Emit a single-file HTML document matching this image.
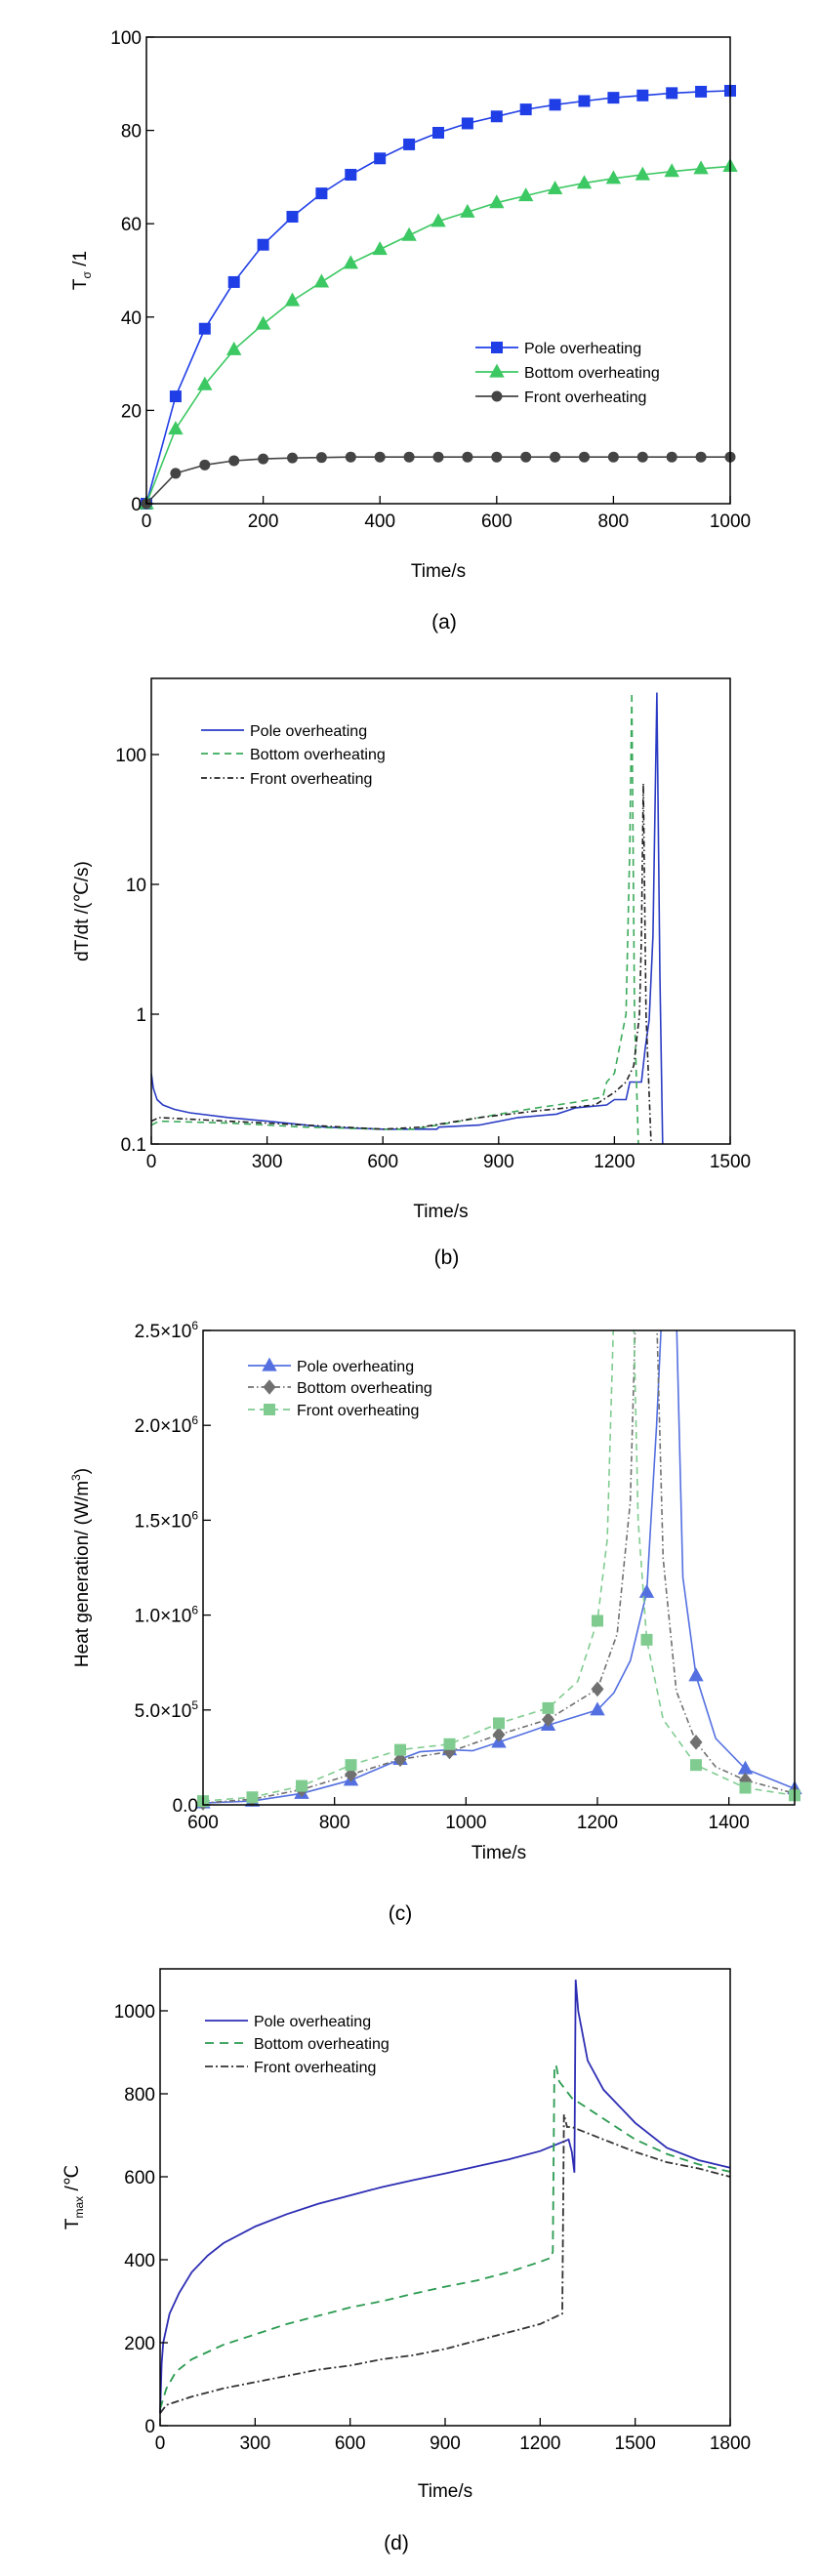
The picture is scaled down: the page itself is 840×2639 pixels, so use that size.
<!DOCTYPE html>
<html><head><meta charset="utf-8"><style>
html,body{margin:0;padding:0;background:#fff}
svg{display:block}
text{font-family:"Liberation Sans",sans-serif;fill:#000}
</style></head><body>
<svg id="fig" width="840" height="2639" viewBox="0 0 840 2639" xmlns="http://www.w3.org/2000/svg"></svg>
<script>
// ---- Panel (a) data ----
const aTime=[0,50,100,150,200,250,300,350,400,450,500,550,600,650,700,750,800,850,900,950,1000];
const aPole=[0,23,37.5,47.5,55.5,61.5,66.5,70.5,74,77,79.5,81.5,83,84.5,85.5,86.3,87,87.5,88,88.3,88.5];
const aBottom=[0,16,25.5,33,38.5,43.5,47.5,51.5,54.5,57.5,60.5,62.5,64.5,66,67.5,68.7,69.7,70.5,71.2,71.8,72.3];
const aFront=[0,6.5,8.3,9.2,9.6,9.8,9.9,10,10,10,10,10,10,10,10,10,10,10,10,10,10];
const aXTicks=[0,200,400,600,800,1000];
const aYTicks=[0,20,40,60,80,100];
// ---- Panel (b) data ----
const bPoleT=[0,5,15,30,60,100,200,300,400,450,600,740,745,850,950,1050,1100,1180,1200,1230,1240,1270,1280,1290,1300,1310,1318,1325];
const bPoleV=[0.35,0.27,0.22,0.2,0.185,0.174,0.16,0.15,0.14,0.135,0.13,0.13,0.135,0.14,0.16,0.17,0.19,0.2,0.22,0.22,0.3,0.3,0.55,0.9,4,300,2,0.1];
const bBotT=[0,20,200,400,600,680,800,900,1000,1100,1170,1180,1200,1210,1230,1240,1245,1252,1262];
const bBotV=[0.14,0.15,0.145,0.135,0.13,0.13,0.15,0.17,0.19,0.21,0.23,0.3,0.35,0.5,1,20,300,1,0.1];
const bFrontT=[0,20,200,400,600,700,850,1000,1150,1200,1230,1250,1265,1270,1275,1282,1295];
const bFrontV=[0.15,0.16,0.15,0.14,0.13,0.135,0.16,0.18,0.2,0.25,0.3,0.4,1,4,60,1,0.1];
const bXTicks=[0,300,600,900,1200,1500];
const bYTicks=[0.1,1,10,100];
// ---- Panel (c) data ----
const cMarkT=[600,675,750,825,900,975,1050,1125,1200,1275,1350,1425,1500];
const cPoleM=[0.1,0.2,0.6,1.3,2.4,2.9,3.3,4.2,5.0,11.2,6.8,1.9,0.85];
const cBotM=[0.1,0.3,0.8,1.6,2.4,2.8,3.7,4.5,6.1,null,3.3,1.3,0.6];
const cFrontM=[0.2,0.4,1.0,2.1,2.9,3.2,4.3,5.1,9.7,8.7,2.1,0.9,0.5];
const cPoleLT=[600,675,750,825,900,930,975,1010,1050,1100,1125,1200,1225,1250,1275,1290,1298,1320,1330,1350,1380,1425,1500];
const cPoleLV=[0.1,0.2,0.6,1.3,2.4,2.8,2.9,2.85,3.3,3.9,4.2,5.0,5.9,7.6,11.2,20,26,26,12,6.8,3.5,1.9,0.85];
const cBotLT=[600,675,750,825,900,975,1050,1125,1200,1230,1250,1258,1290,1300,1320,1350,1380,1425,1500];
const cBotLV=[0.1,0.3,0.8,1.6,2.4,2.8,3.7,4.5,6.1,9,16,26,26,13,6,3.3,2.0,1.3,0.6];
const cFrontLT=[600,675,750,825,900,975,1050,1125,1170,1200,1215,1225,1255,1262,1275,1300,1350,1425,1500];
const cFrontLV=[0.2,0.4,1.0,2.1,2.9,3.2,4.3,5.1,6.5,9.7,14,26,26,15,8.7,4.5,2.1,0.9,0.5];
const cXTicks=[600,800,1000,1200,1400];
const cYTicks=[0,5,10,15,20,25];
const cYLabels=["0.0","5.0×10","1.0×10","1.5×10","2.0×10","2.5×10"];
const cYExp=["","5","6","6","6","6"];
// ---- Panel (d) data ----
const dPoleT=[0,5,10,30,60,100,150,200,300,400,500,600,700,800,900,1000,1100,1200,1290,1300,1308,1312,1320,1350,1400,1500,1600,1700,1800];
const dPoleV=[30,150,200,270,320,370,410,440,480,510,535,555,575,592,608,625,642,662,690,660,610,1075,1000,880,810,730,670,640,622];
const dBotT=[0,20,50,100,200,300,400,500,600,700,800,900,1000,1100,1200,1235,1240,1245,1250,1260,1300,1400,1500,1600,1700,1800];
const dBotV=[40,90,130,160,195,220,245,265,285,300,318,335,350,370,395,405,420,860,870,830,790,740,690,655,630,612];
const dFrontT=[0,20,100,200,300,400,500,600,700,800,900,1000,1100,1200,1270,1275,1285,1300,1400,1500,1600,1700,1800];
const dFrontV=[30,50,70,90,105,120,135,145,160,170,185,205,225,245,270,750,720,720,690,660,635,620,600];
const dXTicks=[0,300,600,900,1200,1500,1800];
const dYTicks=[0,200,400,600,800,1000];

const NS="http://www.w3.org/2000/svg";
const svg=document.getElementById('fig');
function mk(tag,attrs,parent){const e=document.createElementNS(NS,tag);for(const k in attrs)e.setAttribute(k,attrs[k]);(parent||svg).appendChild(e);return e;}
function lin(d0,d1,r0,r1){return v=>r0+(v-d0)*(r1-r0)/(d1-d0);}
function logs(d0,d1,r0,r1){return v=>r0+(Math.log10(v)-Math.log10(d0))*(r1-r0)/(Math.log10(d1)-Math.log10(d0));}
function path(ts,vs,X,Y){let s="";ts.forEach((t,i)=>{if(vs[i]==null)return;s+=(s?"L":"M")+X(t).toFixed(1)+","+Y(vs[i]).toFixed(1);});return s;}

function frame(g,L,T,R,B){
  const f=mk('rect',{x:L,y:T,width:R-L,height:B-T,fill:'none',stroke:'#000','stroke-width':1.5},g);
  
  
}
function xticks(g,ticks,X,B,labels){
  ticks.forEach((t,i)=>{
    const l=mk('line',{x1:X(t),x2:X(t),y1:B,y2:B-8,stroke:'#000','stroke-width':1.3},g);
    
    
    const tx=mk('text',{x:X(t),y:B+24,'text-anchor':'middle','font-size':19},g);
    tx.textContent=labels?labels[i]:t;
    
    
  });
}
function yticks(g,ticks,Y,L,labels,exps){
  ticks.forEach((t,i)=>{
    const l=mk('line',{x1:L,x2:L+8,y1:Y(t),y2:Y(t),stroke:'#000','stroke-width':1.3},g);
    
    
    const tx=mk('text',{x:L-5,y:Y(t)+7,'text-anchor':'end','font-size':19},g);
    tx.textContent=labels?labels[i]:t;
    if(exps&&exps[i]){const ts=mk('tspan',{dy:-8,'font-size':12},tx);ts.textContent=exps[i];}
    
    
  });
}
function label(g,x,y,txt,size,rot,name){
  const t=mk('text',{x:x,y:y,'text-anchor':'middle','font-size':size,transform:rot?`rotate(-90 ${x} ${y})`:''},g);
  t.textContent=txt;
  
  
  return t;
}
function marker(g,shape,x,y,color,s){
  let e;
  if(shape==='sq')e=mk('rect',{x:x-s,y:y-s,width:2*s,height:2*s,fill:color},g);
  else if(shape==='tri')e=mk('polygon',{points:`${x},${y-s*1.2} ${x-s*1.1},${y+s*0.8} ${x+s*1.1},${y+s*0.8}`,fill:color},g);
  else if(shape==='dia')e=mk('polygon',{points:`${x},${y-s*1.2} ${x+s},${y} ${x},${y+s*1.2} ${x-s},${y}`,fill:color},g);
  else e=mk('circle',{cx:x,cy:y,r:s,fill:color},g);
  
  
}
function legend(g,x,y,txt,color,dash,shape,ms){
  const l=mk('line',{x1:x,x2:x+44,y1:y,y2:y,stroke:color,'stroke-width':1.8,'stroke-dasharray':dash||''},g);
  
  
  if(shape)marker(g,shape,x+22,y,color,ms);
  const t=mk('text',{x:x+50,y:y+6,'font-size':16},g);
  t.textContent=txt;
  
  
}

// ===== Panel (a) =====
(function(){
  const g=mk('g',{});
  
  
  const L=150,R=748,T=38,B=516;
  const X=lin(0,1000,L,R),Y=lin(0,100,B,T);
  const series=[[aPole,'#1f3ee6','sq',6],[aBottom,'#3cc862','tri',7],[aFront,'#444','circ',5.5]];
  series.forEach(([v,c,sh,ms])=>{
    const p=mk('path',{d:path(aTime,v,X,Y),fill:'none',stroke:c,'stroke-width':1.6},g);
    
    
    aTime.forEach((t,i)=>marker(g,sh,X(t),Y(v[i]),c,ms));
  });
  frame(g,L,T,R,B);
  xticks(g,aXTicks,X,B);yticks(g,aYTicks,Y,L);
  label(g,(L+R)/2,591,'Time/s',19,false,'x-axis-title');
  const yt=label(g,88,(T+B)/2,'T',19,true,'y-axis-title');
  const s1=mk('tspan',{'font-size':12,dy:5},yt);s1.textContent='σ';
  const s2=mk('tspan',{dy:-5},yt);s2.textContent=' /1';
  label(g,(L+R)/2+6,644,'(a)',21,false,'panel-label');
  legend(g,487,356,'Pole overheating','#1f3ee6','','sq',6);
  legend(g,487,381,'Bottom overheating','#3cc862','','tri',7);
  legend(g,487,406,'Front overheating','#444','','circ',5.5);
})();

// ===== Panel (b) =====
(function(){
  const g=mk('g',{});
  
  
  const L=155,R=748,T=695,B=1172;
  const X=lin(0,1500,L,R),Y=logs(0.1,1,B,1039);
  const cp=mk('clipPath',{id:'clipb'},g);mk('rect',{x:L,y:T,width:R-L,height:B-T},cp);
  const series=[[bPoleT,bPoleV,'#2a3cc4',''],[bBotT,bBotV,'#3aaa5a','7,5'],[bFrontT,bFrontV,'#222','6,3,1.5,3']];
  series.forEach(([t,v,c,d])=>{
    const p=mk('path',{d:path(t,v,X,Y),fill:'none',stroke:c,'stroke-width':1.6,'stroke-dasharray':d,'clip-path':'url(#clipb)'},g);
    
    
  });
  frame(g,L,T,R,B);
  xticks(g,bXTicks,X,B);yticks(g,bYTicks,Y,L);
  label(g,(L+R)/2,1247,'Time/s',19,false,'x-axis-title');
  label(g,90,(T+B)/2,'dT/dt /(℃/s)',19,true,'y-axis-title');
  label(g,(L+R)/2+6,1295,'(b)',21,false,'panel-label');
  legend(g,206,748,'Pole overheating','#2a3cc4','');
  legend(g,206,772,'Bottom overheating','#3aaa5a','7,5');
  legend(g,206,797,'Front overheating','#222','6,3,1.5,3');
})();

// ===== Panel (c) =====
(function(){
  const g=mk('g',{});
  
  
  const L=208,R=814,T=1363,B=1849;
  const X=lin(600,1500,L,R),Y=lin(0,25,B,T);
  const cp=mk('clipPath',{id:'clipc'},g);mk('rect',{x:L,y:T,width:R-L,height:B-T},cp);
  const series=[[cPoleLT,cPoleLV,cPoleM,'#5470e0','','tri',7],[cBotLT,cBotLV,cBotM,'#707070','6,3,1.5,3','dia',6.5],[cFrontLT,cFrontLV,cFrontM,'#80cc90','7,5','sq',6]];
  series.forEach(([t,v,m,c,d,sh,ms])=>{
    const p=mk('path',{d:path(t,v,X,Y),fill:'none',stroke:c,'stroke-width':1.6,'stroke-dasharray':d,'clip-path':'url(#clipc)'},g);
    
    
    cMarkT.forEach((tt,i)=>{if(m[i]!=null&&m[i]<=25)marker(g,sh,X(tt),Y(m[i]),c,ms);});
  });
  frame(g,L,T,R,B);
  xticks(g,cXTicks,X,B);yticks(g,cYTicks,Y,L,cYLabels,cYExp);
  label(g,(L+R)/2,1904,'Time/s',19,false,'x-axis-title');
  const yt=label(g,90,(T+B)/2,'Heat generation/ (W/m',19,true,'y-axis-title');
  const s1=mk('tspan',{'font-size':12,dy:-8},yt);s1.textContent='3';
  const s2=mk('tspan',{dy:8},yt);s2.textContent=')';
  label(g,410,1967,'(c)',21,false,'panel-label');
  legend(g,254,1399,'Pole overheating','#5470e0','','tri',7);
  legend(g,254,1421,'Bottom overheating','#707070','6,3,1.5,3','dia',6.5);
  legend(g,254,1444,'Front overheating','#80cc90','7,5','sq',6);
})();

// ===== Panel (d) =====
(function(){
  const g=mk('g',{});
  
  
  const L=164,R=748,T=2017,B=2485;
  const X=lin(0,1800,L,R),Y=lin(0,1000,B,2060);
  const series=[[dPoleT,dPoleV,'#2e2eb4',''],[dBotT,dBotV,'#2a9a50','9,6'],[dFrontT,dFrontV,'#333','8,3,2,3']];
  series.forEach(([t,v,c,d])=>{
    const p=mk('path',{d:path(t,v,X,Y),fill:'none',stroke:c,'stroke-width':1.8,'stroke-dasharray':d},g);
    
    
  });
  frame(g,L,T,R,B);
  xticks(g,dXTicks,X,B);yticks(g,dYTicks,Y,L);
  label(g,(L+R)/2,2558,'Time/s',19,false,'x-axis-title');
  const yt=label(g,80,(T+B)/2,'T',19,true,'y-axis-title');
  const s1=mk('tspan',{'font-size':12,dy:5},yt);s1.textContent='max';
  const s2=mk('tspan',{dy:-5},yt);s2.textContent=' /℃';
  label(g,(L+R)/2-50,2612,'(d)',21,false,'panel-label');
  legend(g,210,2070,'Pole overheating','#2e2eb4','');
  legend(g,210,2093,'Bottom overheating','#2a9a50','9,6');
  legend(g,210,2117,'Front overheating','#333','8,3,2,3');
})();
</script>
</body></html>
